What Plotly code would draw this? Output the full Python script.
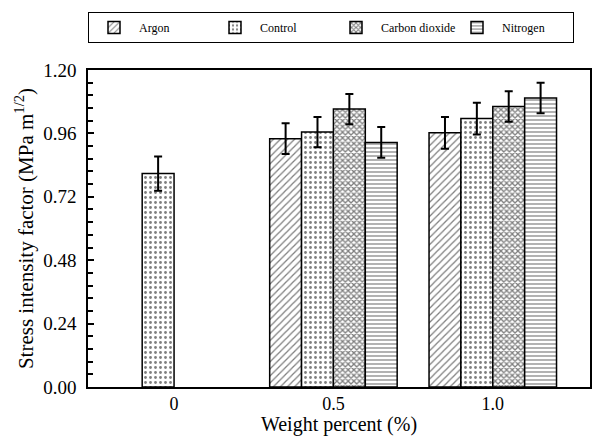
import plotly.graph_objects as go

categories = ["0", "0.5", "1.0"]
x_pos = [0, 1, 2]

argon = [None, 0.940, 0.962]
control = [0.808, 0.965, 1.016]
co2 = [None, 1.052, 1.062]
nitrogen = [None, 0.926, 1.094]

argon_err = [0, 0.058, 0.060]
control_err = [0.065, 0.057, 0.060]
co2_err = [0, 0.057, 0.058]
nitrogen_err = [0, 0.058, 0.058]

y_tick_step = 0.24
y_minor_step = 0.048

series = [
    ("Argon", argon, argon_err, "/", 5, 0.25),
    ("Control", control, control_err, ".", 5, 0.25),
    ("Carbon dioxide", co2, co2_err, "x", 4, 0.55),
    ("Nitrogen", nitrogen, nitrogen_err, "-", 4, 0.3),
]

FONT = "Liberation Serif"
fig = go.Figure()
for name, vals, errs, shape, size, sol in series:
    fig.add_trace(go.Bar(
        name=name, x=x_pos, y=vals,
        marker=dict(color="white", line=dict(color="black", width=1.5),
                    pattern=dict(shape=shape, size=size, solidity=sol,
                                 fgcolor="black", bgcolor="white", fillmode="overlay")),
        error_y=dict(type="data", array=errs, visible=True, color="black",
                     thickness=2, width=4),
    ))

fig.update_layout(
    width=594, height=436,
    margin=dict(l=88, r=2, t=70, b=49),
    paper_bgcolor="white", plot_bgcolor="white",
    barmode="group", bargap=0.2, bargroupgap=0,
    font=dict(family=FONT, color="black", size=18),
    showlegend=True,
    legend=dict(orientation="h", x=0.0, xanchor="left", y=1.183, yanchor="top",
                bordercolor="black", borderwidth=1, bgcolor="white",
                font=dict(family=FONT, size=12), itemwidth=40,
                entrywidth=66),
)
fig.update_xaxes(
    range=[-0.54, 2.61], tickvals=x_pos, ticktext=categories,
    showline=True, linecolor="black", linewidth=1.5, mirror=True,
    ticks="", showgrid=False, zeroline=False,
    tickfont=dict(family=FONT, size=18),
    title=dict(text="Weight percent (%)", font=dict(family=FONT, size=20), standoff=4),
)
fig.update_yaxes(
    range=[0, 1.2], tickmode="linear", tick0=0, dtick=y_tick_step, tickformat=".2f",
    showline=True, linecolor="black", linewidth=1.5, mirror=True,
    ticks="inside", ticklen=6, tickwidth=2, tickcolor="black",
    ticklabelstandoff=6,
    minor=dict(tick0=0, dtick=y_minor_step, ticks="inside", ticklen=5, tickwidth=2,
               tickcolor="black", showgrid=False),
    showgrid=False, zeroline=False,
    tickfont=dict(family=FONT, size=19),
    title=dict(text="Stress intensity factor (MPa m<sup>1/2</sup>)",
               font=dict(family=FONT, size=21), standoff=4),
)

fig.write_html("out.html")
